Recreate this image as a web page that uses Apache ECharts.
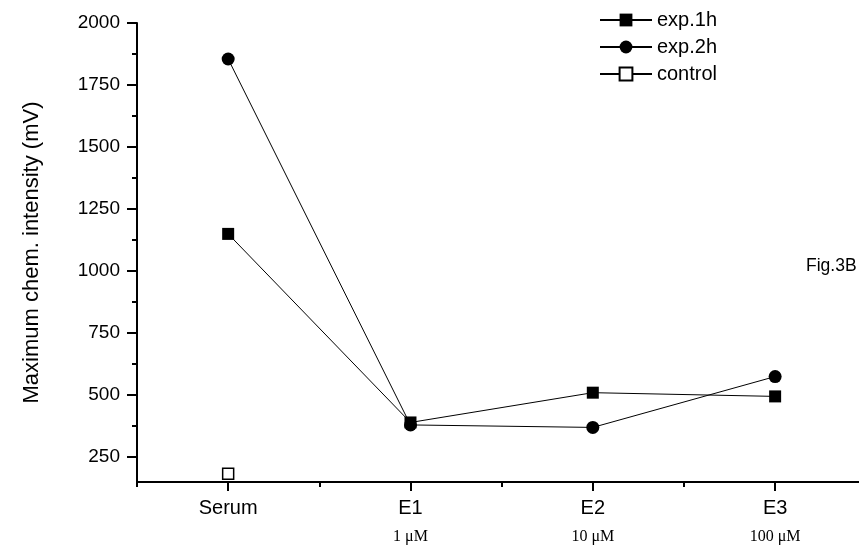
<!DOCTYPE html>
<html>
<head>
<meta charset="utf-8">
<script src="https://cdn.jsdelivr.net/npm/echarts@6/dist/echarts.min.js"></script>
<style>html,body{margin:0;padding:0;background:#fff}#c{width:859px;height:552px}</style>
</head>
<body>
<div id="c"></div>
<script>
const categories = ['Serum', 'E1', 'E2', 'E3'];
const subLabels = ['', '1 μM', '10 μM', '100 μM'];
const exp1h = [1150, 390, 510, 495];
const exp2h = [1855, 380, 370, 575];
const control = [183];
const yTicks = [250, 500, 750, 1000, 1250, 1500, 1750, 2000];
const yMinorTicks = [375, 625, 875, 1125, 1375, 1625, 1875];
const xPositions = [0, 1, 2, 3];
const xMinorTicks = [-0.5, 0.5, 1.5, 2.5];

function pairs(vals) { return vals.map(function (v, i) { return [xPositions[i], v]; }); }

const chart = echarts.init(document.getElementById('c'));
const sans = 'Liberation Sans, Arial, sans-serif';
const serif = 'Liberation Serif, Times New Roman, serif';

chart.setOption({
  animation: false,
  backgroundColor: '#fff',
  grid: { left: 137, top: 23, right: 0, bottom: 70 },
  legend: {
    orient: 'vertical', left: 594, top: 5,
    itemWidth: 52, itemHeight: 16, itemGap: 7,
    textStyle: { fontFamily: sans, fontSize: 20, color: '#000' },
    data: ['exp.1h', 'exp.2h', 'control']
  },
  graphic: [{
    type: 'text', left: 806, top: 257,
    style: { text: 'Fig.3B', fontFamily: sans, fontSize: 17.5, fill: '#000' }
  }],
  xAxis: [{
    type: 'value', min: -0.5, max: 3.46,
    axisLine: { show: true, onZero: false, lineStyle: { color: '#000', width: 2 } },
    axisTick: { show: true, length: 9, customValues: xPositions, lineStyle: { color: '#000', width: 2 } },
    axisLabel: {
      margin: 14, customValues: xPositions, showMinLabel: true, showMaxLabel: true,
      formatter: function (v) {
        const i = Math.round(v);
        return subLabels[i] ? '{a|' + categories[i] + '}\n{b|' + subLabels[i] + '}' : '{a|' + categories[i] + '}';
      },
      rich: {
        a: { fontFamily: sans, fontSize: 20, color: '#000', lineHeight: 24 },
        b: { fontFamily: serif, fontSize: 16, color: '#000', lineHeight: 34 }
      }
    },
    splitLine: { show: false }
  }, {
    type: 'value', min: -0.5, max: 3.46, position: 'bottom',
    axisLine: { show: false, onZero: false },
    axisTick: { show: true, length: 5, customValues: xMinorTicks, lineStyle: { color: '#000', width: 2 } },
    axisLabel: { show: false, customValues: xMinorTicks },
    splitLine: { show: false }
  }],
  yAxis: [{
    type: 'value', min: 150, max: 2000,
    name: 'Maximum chem. intensity (mV)', nameLocation: 'middle', nameGap: 94,
    nameTextStyle: { fontFamily: sans, fontSize: 22, color: '#000' },
    axisLine: { show: true, onZero: false, lineStyle: { color: '#000', width: 2 } },
    axisTick: { show: true, length: 10, customValues: yTicks, lineStyle: { color: '#000', width: 2 } },
    axisLabel: {
      margin: 17, customValues: yTicks, fontFamily: sans, fontSize: 19, color: '#000',
      formatter: function (v) { return String(v); }
    },
    splitLine: { show: false }
  }, {
    type: 'value', min: 150, max: 2000, position: 'left',
    axisLine: { show: false, onZero: false },
    axisTick: { show: true, length: 5, customValues: yMinorTicks, lineStyle: { color: '#000', width: 2 } },
    axisLabel: { show: false, customValues: yMinorTicks },
    splitLine: { show: false }
  }],
  series: [{
    name: 'exp.1h', type: 'line', data: pairs(exp1h),
    symbol: 'rect', symbolSize: 12,
    lineStyle: { color: '#000', width: 1 },
    itemStyle: { color: '#000' }
  }, {
    name: 'exp.2h', type: 'line', data: pairs(exp2h),
    symbol: 'circle', symbolSize: 13,
    lineStyle: { color: '#000', width: 1 },
    itemStyle: { color: '#000' }
  }, {
    name: 'control', type: 'line', data: pairs(control),
    symbol: 'rect', symbolSize: 11,
    lineStyle: { color: '#000', width: 1 },
    itemStyle: { color: '#fff', borderColor: '#000', borderWidth: 1.5 }
  }]
});
</script>
</body>
</html>
